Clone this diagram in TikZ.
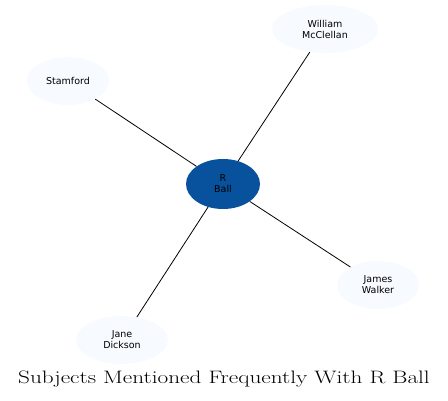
\documentclass[tikz,border=0pt]{standalone}
\usepackage{fontspec}
\newfontfamily\nodefont{DejaVu Sans}
\usetikzlibrary{shapes.geometric}
\definecolor{centerblue}{HTML}{08519C}
\definecolor{leaffill}{HTML}{F7FBFF}
\tikzset{
  base/.style={ellipse, inner sep=0pt, align=center, font=\nodefont\fontsize{9.5}{11}\selectfont},
  hub/.style={base, fill=centerblue},
  leaf/.style={base, fill=leaffill},
  link/.style={draw=black, line width=0.8pt}
}
\begin{document}
\begin{tikzpicture}[x=1pt,y=-1pt]
\useasboundingbox (0,0) rectangle (448,401);
\node[hub, minimum width=74pt, minimum height=50pt] (r) at (223,184) {R\\Ball};
\node[leaf, minimum width=106pt, minimum height=48pt] (w) at (325,29) {William\\McClellan};
\node[leaf, minimum width=82pt, minimum height=48pt] (s) at (68,81) {Stamford};
\node[leaf, minimum width=82pt, minimum height=48pt] (j) at (378,285) {James\\Walker};
\node[leaf, minimum width=92pt, minimum height=48pt] (d) at (122,340) {Jane\\Dickson};
\draw[link] (r) -- (w);
\draw[link] (r) -- (s);
\draw[link] (r) -- (j);
\draw[link] (r) -- (d);
\node[font=\fontsize{18}{21}\selectfont, inner sep=0pt] (title) at (224,379) {\scalebox{1.29}[1]{Subjects Mentioned Frequently With R Ball}};
\end{tikzpicture}
\end{document}
